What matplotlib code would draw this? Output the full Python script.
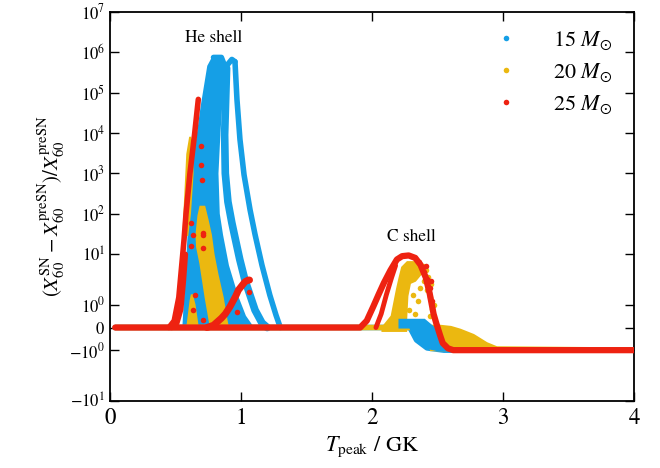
import numpy as np
import matplotlib
matplotlib.use("Agg")
import matplotlib.pyplot as plt
from matplotlib.lines import Line2D

plt.rcParams['font.family'] = 'STIXGeneral'
plt.rcParams['mathtext.fontset'] = 'stix'

blue = '#159fe6'
yellow = '#ebb810'
red = '#ee2211'

# 15 Msun: He shell dense core (polygon) and tracks, C shell blob
m15_core_x = [0.56, 0.60, 0.63, 0.665, 0.70, 0.75, 0.786, 0.85, 0.865, 0.855, 0.835, 0.82, 0.83, 0.855, 0.90, 0.97, 1.03, 1.09]
m15_core_y = [0, 30, 1e3, 7e3, 4.6e4, 4.5e5, 7.4e5, 7.4e5, 5e5, 1e5, 1e4, 1e3, 100, 30, 6, 1.5, 0.5, 0]
m15_top_x = [0.79, 0.85, 0.88, 0.93, 0.954]
m15_top_y = [7.4e5, 7.4e5, 4.2e5, 6.6e5, 5.8e5]
m15_col2_x = [0.89, 0.875, 0.88, 0.90, 0.93, 0.95, 0.99, 1.03, 1.107, 1.16, 1.20]
m15_col2_y = [4e5, 9e3, 1e3, 200, 60, 30, 8, 3.1, 0.77, 0.2, 0]
m15_outer_x = [0.954, 0.969, 0.992, 1.023, 1.069, 1.107, 1.16, 1.22, 1.267, 1.30]
m15_outer_y = [5.8e5, 6.8e4, 6.9e3, 930, 126, 31, 6.1, 1.56, 0.55, 0]
m15_base_x = [0.04, 2.22, 2.29, 2.34, 2.42, 2.55, 4.0]
m15_base_y = [0, 0, 0, -0.55, -0.9, -1, -1]
m15_c_x = [2.21, 2.40, 2.47, 2.55, 2.58, 2.50, 2.42, 2.34, 2.29, 2.21]
m15_c_y = [0.34, 0.34, 0, -0.8, -1, -1, -0.9, -0.55, 0, 0]

# 20 Msun
m20_spike_x = [0.56, 0.575, 0.59, 0.612, 0.625, 0.63, 0.61, 0.59]
m20_spike_y = [30, 300, 3e3, 8e3, 5e3, 1e3, 100, 30]
m20_blob_x = [0.66, 0.675, 0.69, 0.72, 0.745, 0.77, 0.79, 0.82, 0.86, 0.89, 0.90, 0.77, 0.73, 0.69, 0.665]
m20_blob_y = [30, 90, 150, 150, 70, 30, 10, 4, 1.4, 0.3, 0, 0, 1.4, 6.6, 15]
m20_low_x = [0.59, 0.615, 0.625, 0.645, 0.67]
m20_low_y = [0, 1.2, 1.6, 1.0, 0]
m20_base_x = [0.04, 2.52, 2.60, 2.67, 2.77, 2.87, 2.95, 4.0]
m20_base_y = [0, 0, -0.05, -0.17, -0.4, -0.76, -0.95, -1]
m20_tail_x = [2.40, 2.52, 2.60, 2.67, 2.77, 2.87, 2.95, 2.95, 2.45]
m20_tail_y = [0, 0, -0.05, -0.17, -0.4, -0.76, -0.95, -1, -1]
m20_c_x = [2.08, 2.08, 2.15, 2.19, 2.21, 2.23, 2.27, 2.32, 2.36, 2.37, 2.33, 2.29, 2.27, 2.26, 2.26]
m20_c_y = [-0.15, 0, 0.5, 2, 3.4, 5.5, 7, 7, 5.5, 4, 3, 2.7, 1.5, 0.3, -0.15]
m20_dots_x = [2.38, 2.40, 2.42, 2.44, 2.46, 2.35, 2.31, 2.39, 2.43, 2.28, 2.41, 2.45, 2.37, 2.33, 2.44, 2.47]
m20_dots_y = [4.5, 3.0, 2.0, 1.4, 0.8, 1.2, 1.6, 6.0, 3.5, 0.77, 5.0, 2.6, 2.2, 0.6, 0.5, 1.0]

# 25 Msun
m25_main_x = [0.04, 1.91, 1.96, 2.01, 2.05, 2.09, 2.14, 2.19, 2.23, 2.28, 2.33, 2.37, 2.41, 2.44,
              2.47, 2.49, 2.52, 2.54, 2.58, 2.62, 4.0]
m25_main_y = [0, 0, 0.3, 0.93, 1.6, 2.7, 4.8, 7.9, 9.2, 9.5, 8.5, 6.2, 3.5, 1.7,
              0.6, 0.2, -0.35, -0.69, -0.92, -1, -1]
m25_inner_x = [2.03, 2.07, 2.11, 2.15, 2.18]
m25_inner_y = [0, 0.6, 1.6, 3.5, 6.0]
m25_he_x = [0.45, 0.49, 0.525, 0.555, 0.565, 0.58, 0.61, 0.645, 0.674]
m25_he_y = [0, 0.3, 1.4, 10, 23, 100, 1e3, 9e3, 6.8e4]
m25_he2_x = [0.47, 0.51, 0.54, 0.56, 0.575]
m25_he2_y = [0, 0.2, 0.8, 3, 10]
m25_bump_x = [0.74, 0.79, 0.85, 0.88, 0.916, 0.96, 0.98, 1.03, 1.056, 1.065]
m25_bump_y = [0, 0.1, 0.41, 0.6, 0.92, 1.5, 1.96, 2.86, 3.1, 3.1]
m25_dots_x = [0.695, 0.695, 0.70, 0.71, 0.636, 0.62, 0.65, 0.636, 0.967, 1.06, 0.707, 0.62, 0.71, 0.71,
              2.38, 2.40, 2.42, 2.44, 2.46, 2.36, 2.41, 2.45]
m25_dots_y = [4.8e3, 1.6e3, 700, 30, 30, 16, 1.55, 0.77, 0.7, 1.8, 14, 60, 0.33, 33,
              5.5, 4.5, 3.2, 2.2, 1.2, 7.0, 6.0, 3.0]

labels = [r'15 $M_{\odot}$', r'20 $M_{\odot}$', r'25 $M_{\odot}$']

ytick_vals = [-10, -1, 0, 1, 10, 1e2, 1e3, 1e4, 1e5, 1e6, 1e7]
ytick_labels = [r'$-10^{1}$', r'$-10^{0}$', r'$0$', r'$10^{0}$', r'$10^{1}$', r'$10^{2}$',
                r'$10^{3}$', r'$10^{4}$', r'$10^{5}$', r'$10^{6}$', r'$10^{7}$']


# symmetric log-like axis: linear in [-1, 1], stretched decade in [1, 10]
def fwd(y):
    y = np.asarray(y, dtype=float)
    a = np.abs(y)
    lin = 0.56 * a
    mid = 0.56 + 1.25 * np.log10(np.clip(a, 1, None))
    hi = 0.81 + np.log10(np.clip(a, 10, None))
    return np.sign(y) * np.where(a <= 1, lin, np.where(a <= 10, mid, hi))


def inv(u):
    u = np.asarray(u, dtype=float)
    a = np.abs(u)
    lin = a / 0.56
    mid = 10 ** ((np.clip(a, 0.56, 1.81) - 0.56) / 1.25)
    hi = 10 ** (np.clip(a, 1.81, 12) - 0.81)
    return np.sign(u) * np.where(a <= 0.56, lin, np.where(a <= 1.81, mid, hi))


fig = plt.figure(figsize=(6.6, 4.68), dpi=100)
ax = fig.add_axes([0.1667, 0.1438, 0.7939, 0.8312])
ax.set_yscale('function', functions=(fwd, inv))

lw = 4.0
ms = 4.0
line_kw = dict(solid_capstyle='round', solid_joinstyle='round')

# 15 Msun
ax.plot(m15_base_x, m15_base_y, '-', color=blue, lw=lw, zorder=2, **line_kw)
ax.fill(m15_core_x, m15_core_y, color=blue, lw=1.5, zorder=2)
ax.plot(m15_top_x, m15_top_y, '-', color=blue, lw=lw, zorder=2, **line_kw)
ax.plot(m15_col2_x, m15_col2_y, '-', color=blue, lw=5.5, zorder=2, **line_kw)
ax.plot(m15_outer_x, m15_outer_y, '-', color=blue, lw=lw, zorder=2, **line_kw)

# 20 Msun
ax.plot(m20_base_x, m20_base_y, '-', color=yellow, lw=lw, zorder=3, **line_kw)
ax.fill(m20_spike_x, m20_spike_y, color=yellow, lw=1.5, zorder=3)
ax.fill(m20_blob_x, m20_blob_y, color=yellow, lw=1.5, zorder=3)
ax.fill(m20_low_x, m20_low_y, color=yellow, lw=1.5, zorder=3)
ax.fill(m20_tail_x, m20_tail_y, color=yellow, lw=1.5, zorder=3)
ax.fill(m20_c_x, m20_c_y, color=yellow, lw=1.5, zorder=3)
ax.plot(m20_dots_x, m20_dots_y, 'o', color=yellow, ms=ms, mew=0, zorder=3)

# 15 Msun C shell sits above the yellow band
ax.fill(m15_c_x, m15_c_y, color=blue, lw=1.5, zorder=3.5)

# 25 Msun
ax.plot(m25_main_x, m25_main_y, '-', color=red, lw=4.5, zorder=4, **line_kw)
ax.plot(m25_inner_x, m25_inner_y, '-', color=red, lw=3.5, zorder=4, **line_kw)
ax.plot(m25_he_x, m25_he_y, '-', color=red, lw=lw, zorder=4, **line_kw)
ax.plot(m25_he2_x, m25_he2_y, '-', color=red, lw=lw, zorder=4, **line_kw)
ax.plot(m25_bump_x, m25_bump_y, '-', color=red, lw=5, zorder=4, **line_kw)
ax.plot(m25_dots_x, m25_dots_y, 'o', color=red, ms=ms, mew=0, zorder=4)

ax.text(0.79, 2.3e6, 'He shell', ha='center', va='center', fontsize=12.5)
ax.text(2.30, 27, 'C shell', ha='center', va='center', fontsize=12.5)

handles = [Line2D([], [], marker='o', ls='none', color=c, ms=4, mew=0) for c in (blue, yellow, red)]
ax.legend(handles, labels, loc='upper right', bbox_to_anchor=(0.959, 0.955), frameon=False,
          fontsize=16, handlelength=0.8, handletextpad=1.7, labelspacing=0.42,
          borderpad=0, borderaxespad=0)

ax.set_xlim(0, 4)
ax.set_ylim(-10, 1e7)
ax.set_xticks([0, 1, 2, 3, 4])
ax.set_yticks(ytick_vals)
ax.set_yticklabels(ytick_labels)
ax.minorticks_off()
ax.tick_params(direction='in', top=True, right=True, length=6.5, width=1.0)
ax.tick_params(axis='x', labelsize=16.5, pad=5)
ax.tick_params(axis='y', labelsize=12)
for sp in ax.spines.values():
    sp.set_linewidth(1.3)

ax.set_xlabel(r'$T_{\rm peak}$ / GK', fontsize=16)
ax.set_ylabel(r'$(X_{60}^{\rm SN} - X_{60}^{\rm preSN})/X_{60}^{\rm preSN}$', fontsize=15, labelpad=2)

fig.savefig('out.png', dpi=100)
